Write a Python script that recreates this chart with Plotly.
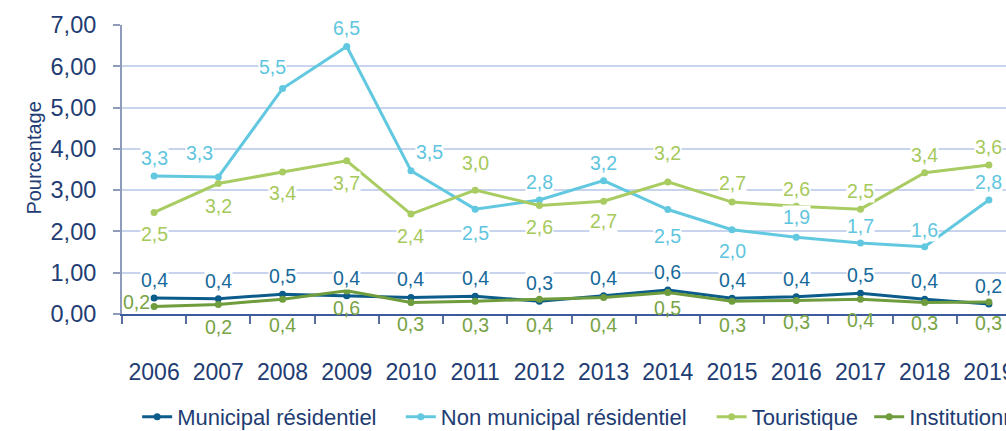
import plotly.graph_objects as go

# Taux annuels (%) par type de clientèle
years = ['2006', '2007', '2008', '2009', '2010', '2011', '2012',
         '2013', '2014', '2015', '2016', '2017', '2018', '2019']
municipal_res = [0.39, 0.37, 0.48, 0.44, 0.40, 0.43, 0.31,
                 0.44, 0.58, 0.38, 0.42, 0.50, 0.36, 0.24]
non_municipal_res = [3.34, 3.32, 5.46, 6.48, 3.47, 2.54, 2.76,
                     3.23, 2.53, 2.04, 1.86, 1.72, 1.63, 2.76]
touristique = [2.46, 3.16, 3.44, 3.71, 2.42, 3.00, 2.63,
               2.73, 3.20, 2.71, 2.61, 2.54, 3.42, 3.61]
institutionnel = [0.18, 0.23, 0.36, 0.56, 0.28, 0.31, 0.36,
                  0.40, 0.52, 0.31, 0.33, 0.36, 0.28, 0.29]

FONT = "Arial, Liberation Sans, Helvetica, sans-serif"
NAVY = "#213c72"

# style of each series: (name, values, line colour, label colour,
# label offsets dx/dy in px, label background)
series = [
    ("Municipal résidentiel", municipal_res, "#0b5c8b", "#17699a",
     [0] * 14, [18] * 14, "white"),
    ("Non municipal résidentiel", non_municipal_res, "#62c8e0", "#5fc5de",
     [0, -19, -10, 0, 19, 0, 0, 0, 0, 0, 0, 0, 0, 0],
     [18, 24, 22, 18, 19, -24, 18, 18, -26, -21, 20, 17, 17, 18], "white"),
    ("Touristique", touristique, "#a9cc62", "#a6c95c",
     [0] * 14,
     [-22, -22, -21, -22, -22, 27, -22, -20, 29, 19, 17, 18, 18, 18], "white"),
    ("Institutionnel", institutionnel, "#6f9c3d", "#78a346",
     [-18, 0, 0, 0, 0, 0, 0, 0, 0, 0, 0, 0, 0, 0],
     [5, -22, -26, -17, -22, -24, -26, -28, -15, -24, -22, -21, -21, -21], None),
]

W, H = 1100, 431
ML, MT, MB = 121.5, 25, 117
PLOT_W = 900
MR = W - ML - PLOT_W
PLOT_H = H - MT - MB

fig = go.Figure()
annotations = []
legend_text_px = [176.7, 440.6, 751.8, 909.5]
legends = {}

for i, (name, vals, lc, tc, dxs, dys, bg) in enumerate(series):
    lname = "legend" if i == 0 else f"legend{i + 1}"
    fig.add_trace(go.Scatter(
        x=years, y=vals, name=name, mode="lines+markers",
        line=dict(color=lc, width=3),
        marker=dict(color=lc, size=7),
        legend=lname, hoverinfo="skip",
    ))
    # value labels, placed at the category index of each point
    for k, (v, dx, dy) in enumerate(zip(vals, dxs, dys)):
        annotations.append(dict(
            x=k, y=v, xref="x", yref="y",
            text=f"{v:.1f}".replace(".", ","),
            showarrow=False, xshift=dx, yshift=dy,
            xanchor="center", yanchor="middle",
            font=dict(family=FONT, size=19.5, color=tc),
            bgcolor=bg if bg else "rgba(0,0,0,0)", borderpad=0,
        ))
    legends[lname] = dict(
        orientation="h",
        x=(legend_text_px[i] - 40 - ML) / PLOT_W, xanchor="left",
        y=1 - (417 - MT) / PLOT_H, yanchor="middle",
        font=dict(family=FONT, size=22, color=NAVY),
        bgcolor="rgba(0,0,0,0)", borderwidth=0, itemwidth=30,
    )

# vertical axis caption
annotations.append(dict(
    text="Pourcentage", textangle=-90,
    xref="paper", yref="paper",
    x=(33 - ML) / PLOT_W, y=1 - (158 - MT) / PLOT_H,
    xanchor="center", yanchor="middle", showarrow=False,
    font=dict(family=FONT, size=20, color=NAVY),
))

fig.update_layout(
    width=W, height=H,
    margin=dict(l=ML, r=MR, t=MT, b=MB, pad=0, autoexpand=False),
    paper_bgcolor="white", plot_bgcolor="white",
    separators=", ",
    font=dict(family=FONT, color=NAVY),
    annotations=annotations,
    showlegend=True,
    **legends,
)

fig.update_xaxes(
    type="category", categoryorder="array", categoryarray=years,
    range=[-0.5, 13.5],
    showgrid=False, zeroline=False,
    showline=True, linecolor="#3d5a9c", linewidth=2,
    ticks="outside", tickson="boundaries", ticklen=8, tickwidth=1.5,
    tickcolor="#5a6e9e",
    tickfont=dict(family=FONT, size=23, color=NAVY),
    ticklabelstandoff=36,
)

fig.update_yaxes(
    range=[0, 7], dtick=1, tick0=0, tickformat=".2f",
    showgrid=True, gridcolor="#c8d4ee", gridwidth=1.5,
    zeroline=False,
    showline=True, linecolor="#8f9bba", linewidth=2,
    ticks="outside", ticklen=7, tickwidth=1.5, tickcolor="#8f9bba",
    tickfont=dict(family=FONT, size=23.5, color=NAVY),
    ticklabelstandoff=12,
)

fig.write_html(
    "out.html",
    post_script=(
        "document.documentElement.style.overflow='hidden';"
        "document.body.style.overflow='hidden';"
        "document.body.style.margin='0';"
    ),
)
